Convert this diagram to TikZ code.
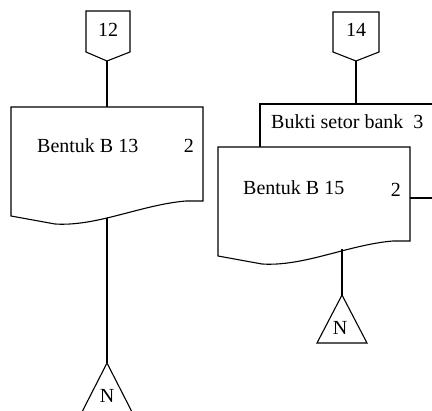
\documentclass[tikz,border=0pt]{standalone}
\usepackage{fontspec}
\setmainfont{Liberation Serif}
\usetikzlibrary{calc}

\tikzset{
  docpage/.pic={
    \draw[line, fill=white] (0,0) -- (192,0) -- (192,94) -- (175,94)
      .. controls (150,96) and (125,104) .. (96,111)
      .. controls (75,116) and (58,118) .. (44,117) -- (0,109) -- cycle;
  },
}

\begin{document}
\begin{tikzpicture}[
  x=1pt, y=-1pt,
  line/.style={line width=1.1pt, line join=miter},
  lbl/.style={inner sep=0pt, font=\fontsize{20}{24}\selectfont},
]

\clip (0,0) rectangle (432,411);

% Off-page connectors
\coordinate (tip12) at (107,61);
\draw[line] (86,11) -- (130,11) -- (130,52) -- (tip12) -- (86,52) -- cycle;
\node[lbl, anchor=base] (t12) at (108,37) {12};

\coordinate (tip14) at (356,61);
\draw[line] (333,12) -- (379,12) -- (379,52) -- (tip14) -- (333,52) -- cycle;
\node[lbl, anchor=base] (t14) at (356,37) {14};

% Left document
\pic at (11,107) {docpage};
\coordinate (b13in) at (107,107);
\coordinate (b13out) at (107,218);
\node[lbl, anchor=base west] (b13) at (37,153) {Bentuk B 13};
\node[lbl, anchor=base east] (b13n) at (194,153) {2};

% Right documents
\draw[line, fill=white] (260,104) rectangle (460,198);
\coordinate (bukin) at (356,104);
\node[lbl, anchor=base west] (buk) at (271,129) {Bukti setor bank~ 3};
\pic at (218,147) {docpage};
\coordinate (b15out) at (342,249);
\node[lbl, anchor=base west] (b15) at (243,195) {Bentuk B 15};
\node[lbl, anchor=base east] (b15n) at (401,197) {2};

% Triangles
\coordinate (n1top) at (107,363);
\draw[line] (n1top) -- ++(25,49) -- ++(-50,0) -- cycle;
\node[lbl, anchor=base] (n1) at (107,403) {N};

\coordinate (n2top) at (342,295);
\draw[line] (n2top) -- ++(25,48) -- ++(-50,0) -- cycle;
\node[lbl, anchor=base] (n2) at (340,335) {N};

% Flow lines
\draw[line] (tip12) -- (b13in);
\draw[line] (b13out) -- (n1top);
\draw[line] (tip14) -- (bukin);
\draw[line] (b15out) -- (n2top);

\end{tikzpicture}
\end{document}
